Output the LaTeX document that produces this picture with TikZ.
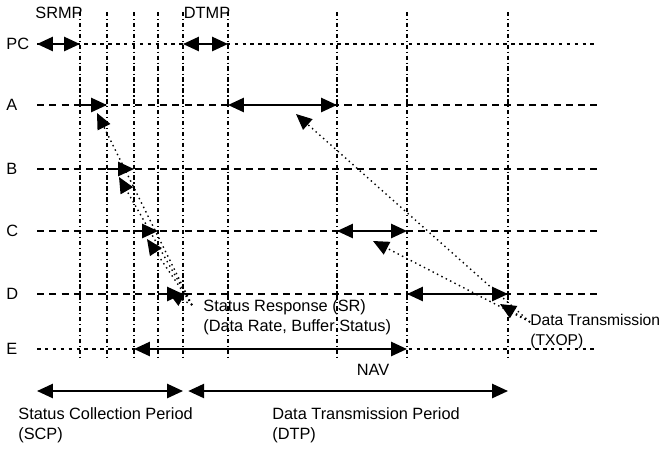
\documentclass[tikz,border=0pt]{standalone}
\usepackage{fontspec}
\setmainfont{Liberation Sans}
\usetikzlibrary{arrows.meta}
\tikzset{
  gridv/.style={line width=0.9pt, dash pattern=on 2.5pt off 1.5pt on 0.7pt off 1.5pt},
  gridh/.style={line width=1.1pt, dash pattern=on 4pt off 3pt},
  gridf/.style={line width=0.9pt, dash pattern=on 2pt off 2.5pt},
  span/.style={line width=1.2pt, -{Triangle[length=9pt,width=8pt]}},
  twospan/.style={line width=1.2pt, {Triangle[length=9pt,width=8pt]}-{Triangle[length=9pt,width=8pt]}},
  msg/.style={line width=0.8pt, dotted, -{Triangle[length=9pt,width=8pt]}},
  lbl/.style={font=\fontsize{9.3}{11.3}\selectfont, inner sep=0pt, align=left},
}
\begin{document}
\begin{tikzpicture}[x=0.02cm,y=-0.02cm]
    \useasboundingbox (0,0) rectangle (665,451);
    % time marks
    \coordinate (c0) at (37,0);
    \foreach \i/\x in {1/80,2/107,3/134,4/158,5/183,6/228,7/337,8/407,9/508} {
        \coordinate (c\i) at (\x,0);
        \draw[gridv] (\x,12) -- (\x,357);
    }
    % stations
    \foreach \n/\y/\sty in {PC/44/gridf,A/105/gridh,B/169/gridh,C/231/gridh,D/294/gridh,E/349/gridf} {
        \coordinate (r\n) at (0,\y);
        \node[lbl,anchor=west] (l\n) at (6,\y) {\n};
        \draw[\sty] (37,\y) -- (598,\y);
    }
    \coordinate (rP) at (0,391);
    % polls and transmissions
    \draw[twospan] (c0 |- rPC) -- (c1 |- rPC);
    \draw[twospan] (c5 |- rPC) -- (c6 |- rPC);
    \draw[span] (c1 |- rA) -- (c2 |- rA);
    \draw[twospan] (c6 |- rA) -- (c7 |- rA);
    \draw[span] (c2 |- rB) -- (c3 |- rB);
    \draw[span] (c3 |- rC) -- (c4 |- rC);
    \draw[twospan] (c7 |- rC) -- (c8 |- rC);
    \draw[span] (c4 |- rD) -- (c5 |- rD);
    \draw[twospan] (c8 |- rD) -- (c9 |- rD);
    \draw[twospan] (c3 |- rE) -- (c8 |- rE);
    \draw[twospan] (c0 |- rP) -- (c5 |- rP);
    \draw[twospan,shorten <=3pt] (c5 |- rP) -- (c9 |- rP);
    % labels
    \node[lbl] (srmp) at (59,13) {SRMP};
    \node[lbl] (dtmp) at (207,13) {DTMP};
    \node[lbl] (nav) at (373,370) {NAV};
    \node[lbl,anchor=north west] (sr) at (203,299) {Status Response (SR)\\(Data Rate, Buffer Status)};
    \node[lbl,anchor=north west,font=\fontsize{8.9}{11.3}\selectfont] (dt) at (530,314) {Data Transmission\\(TXOP)};
    \node[lbl,anchor=north west] (scp) at (18,407) {Status Collection Period\\(SCP)};
    \node[lbl,anchor=north west] (dtp) at (272,407) {Data Transmission Period\\(DTP)};
    % status responses
    \coordinate (srs) at (192,305);
    \coordinate (sA) at (97,113);
    \coordinate (sB) at (119,177);
    \coordinate (sC) at (147,239);
    \coordinate (sD) at (168,292);
    \foreach \t in {sA,sB,sC,sD} \draw[msg] (srs) -- (\t);
    % data transmissions
    \coordinate (dts) at (530,322);
    \coordinate (tA) at (296,114);
    \coordinate (tC) at (373,241);
    \coordinate (tD) at (500,304);
    \foreach \t in {tA,tC,tD} \draw[msg] (dts) -- (\t);
\end{tikzpicture}
\end{document}
